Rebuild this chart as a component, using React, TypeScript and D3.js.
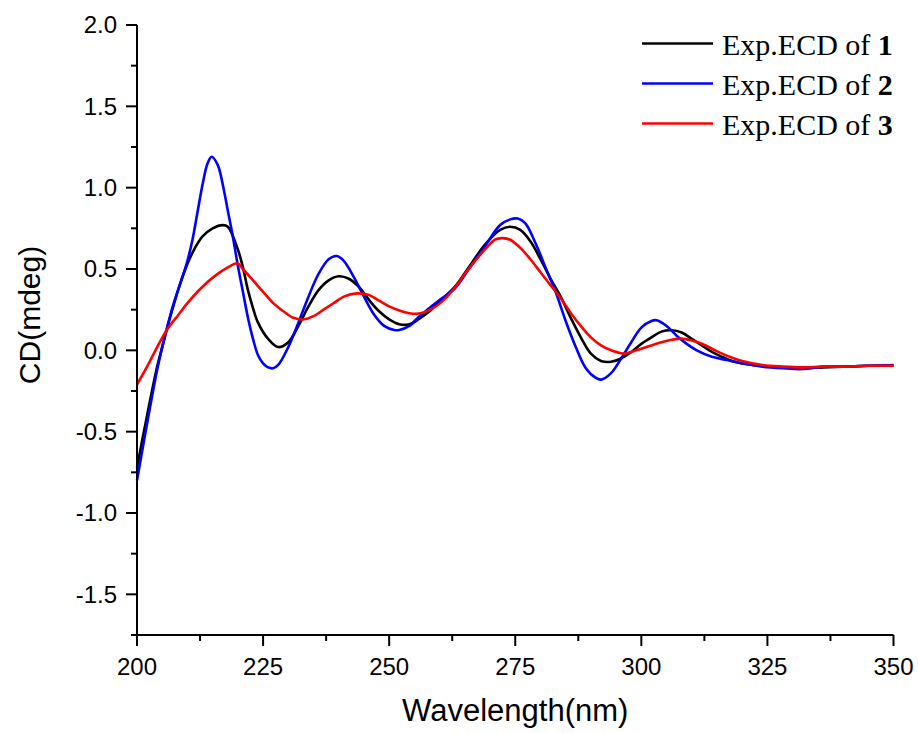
import React from "react";
import * as d3 from "d3";

const wl1 = [200,202,204,205,207,209,211,213,215,217,218,220,221,222,223,224,226,228,230,232,234,236,238,240,242,244,246,248,250,252,254,256,258,260,263,266,269,272,274,276,278,280,282,284,286,288,290,292,294,296,298,300,302,304,306,308,310,312,314,316,318,320,324,328,332,336,340,345,350];
const cd1 = [-0.72,-0.40,-0.10,0.02,0.25,0.45,0.60,0.70,0.75,0.77,0.76,0.62,0.51,0.37,0.26,0.17,0.07,0.02,0.05,0.15,0.27,0.37,0.43,0.455,0.44,0.39,0.31,0.24,0.19,0.16,0.16,0.195,0.24,0.30,0.39,0.52,0.65,0.74,0.76,0.74,0.67,0.56,0.44,0.33,0.20,0.08,-0.02,-0.065,-0.07,-0.05,-0.01,0.04,0.08,0.115,0.123,0.11,0.07,0.03,-0.01,-0.04,-0.065,-0.08,-0.095,-0.105,-0.11,-0.105,-0.10,-0.095,-0.095];

const wl2 = [200,202,204,205,207,209,210,211,212,213,214,214.8,216,217,218,219,220,221,222,223,224,225,226,227,228,230,232,234,236,238,239.6,241,243,245,247,249,251,252,254,256,258,260,263,266,269,272,274,275.5,277,279,281,283,285,287,289,291,292,294,296,298,300,302,303,305,307,309,311,314,317,320,324,328,332,336,340,345,350];
const cd2 = [-0.80,-0.45,-0.12,0.02,0.26,0.45,0.55,0.68,0.85,1.02,1.15,1.19,1.14,1.02,0.86,0.70,0.52,0.36,0.20,0.07,-0.03,-0.08,-0.105,-0.11,-0.09,0.02,0.17,0.33,0.47,0.56,0.58,0.55,0.45,0.33,0.22,0.15,0.125,0.125,0.15,0.21,0.26,0.31,0.38,0.51,0.64,0.77,0.805,0.81,0.78,0.66,0.51,0.36,0.18,0.02,-0.11,-0.17,-0.18,-0.14,-0.05,0.05,0.14,0.18,0.185,0.15,0.09,0.04,0.0,-0.04,-0.06,-0.08,-0.10,-0.11,-0.115,-0.10,-0.10,-0.095,-0.09];

const wl3 = [200,202,204,206,208,210,212,214,216,218,219.9,221,223,225,227,229,231,233,235,237,239,241,243.6,246,248,250,252,254,255.5,257,259,261,263,266,269,271,272.3,274,276,278,280,282,284,286,288,290,292,294,296.4,298,300,302,304,306,308,310,312,314,316,318,320,324,328,332,336,340,345,350];
const cd3 = [-0.21,-0.10,0.02,0.13,0.21,0.29,0.36,0.42,0.47,0.51,0.535,0.50,0.43,0.36,0.29,0.24,0.20,0.19,0.21,0.25,0.29,0.33,0.35,0.34,0.305,0.27,0.245,0.228,0.225,0.235,0.265,0.315,0.385,0.51,0.62,0.68,0.69,0.68,0.63,0.56,0.48,0.40,0.32,0.23,0.15,0.08,0.03,0.0,-0.02,-0.01,0.01,0.03,0.05,0.065,0.072,0.06,0.04,0.01,-0.02,-0.045,-0.065,-0.09,-0.10,-0.105,-0.10,-0.10,-0.095,-0.095];

const seriesNames = ["1", "2", "3"];
const seriesColors = ["#000000", "#0000ff", "#ff0000"];
const xMajorTicks = [200, 225, 250, 275, 300, 325, 350];
const xMinorTicks = [212.5, 237.5, 262.5, 287.5, 312.5, 337.5];
const yMajorTicks = [-1.5, -1.0, -0.5, 0.0, 0.5, 1.0, 1.5, 2.0];
const yMinorTicks = [-1.75, -1.25, -0.75, -0.25, 0.25, 0.75, 1.25, 1.75];

export default function App() {
  const W = 918, H = 733;
  const x = d3.scaleLinear().domain([200, 350]).range([137, 893.5]);
  const y = d3.scaleLinear().domain([-1.75, 2.0]).range([635, 25]);
  const line = d3.line<[number, number]>()
    .x(d => x(d[0]))
    .y(d => y(d[1]))
    .curve(d3.curveCatmullRom.alpha(0.5));
  const series = [
    wl1.map((w, i) => [w, cd1[i]] as [number, number]),
    wl2.map((w, i) => [w, cd2[i]] as [number, number]),
    wl3.map((w, i) => [w, cd3[i]] as [number, number]),
  ];
  const fmt = (v: number) => v.toFixed(1).replace("\u2212", "-");
  const x0 = x(200), yb = y(-1.75);
  const sans = "Arial, 'Liberation Sans', sans-serif";
  const serif = "'Times New Roman', 'Liberation Serif', serif";
  return (
    <svg width={W} height={H} style={{ position: "absolute", left: 0, top: 0, background: "#fff" }}>
      <rect x={0} y={0} width={W} height={H} fill="#fff" />
      {series.map((s, i) => (
        <path key={i} d={line(s) || ""} fill="none" stroke={seriesColors[i]} strokeWidth={2.6} strokeLinejoin="round" />
      ))}
      {/* axes */}
      <line x1={x0} x2={x0} y1={y(2.0)} y2={yb + 11} stroke="#000" strokeWidth={2} />
      <line x1={x0 - 6} x2={x(350)} y1={yb} y2={yb} stroke="#000" strokeWidth={2} />
      {yMajorTicks.map(t => (
        <g key={"ym" + t}>
          <line x1={x0 - 11} x2={x0} y1={y(t)} y2={y(t)} stroke="#000" strokeWidth={2} />
          <text x={x0 - 20} y={y(t)} dy="0.35em" textAnchor="end" fontFamily={sans} fontSize={24} fill="#000">{fmt(t)}</text>
        </g>
      ))}
      {yMinorTicks.map(t => (
        <line key={"yn" + t} x1={x0 - 6} x2={x0} y1={y(t)} y2={y(t)} stroke="#000" strokeWidth={2} />
      ))}
      {xMajorTicks.map(t => (
        <g key={"xm" + t}>
          <line x1={x(t)} x2={x(t)} y1={yb} y2={yb + 11} stroke="#000" strokeWidth={2} />
          <text x={x(t)} y={675} textAnchor="middle" fontFamily={sans} fontSize={24} fill="#000">{t}</text>
        </g>
      ))}
      {xMinorTicks.map(t => (
        <line key={"xn" + t} x1={x(t)} x2={x(t)} y1={yb} y2={yb + 6} stroke="#000" strokeWidth={2} />
      ))}
      <text x={(x(200) + x(350)) / 2} y={721} textAnchor="middle" fontFamily={sans} fontSize={31} fill="#000">Wavelength(nm)</text>
      <text transform={`translate(40,315) rotate(-90)`} textAnchor="middle" fontFamily={sans} fontSize={30} fill="#000">CD(mdeg)</text>
      {/* legend */}
      {seriesNames.map((n, i) => (
        <g key={"lg" + n}>
          <line x1={642} x2={713} y1={43.5 + i * 40} y2={43.5 + i * 40} stroke={seriesColors[i]} strokeWidth={2.6} />
          <text x={722} y={54.5 + i * 40} fontFamily={serif} fontSize={30} fill="#000">
            Exp.ECD of <tspan fontWeight="bold">{n}</tspan>
          </text>
        </g>
      ))}
    </svg>
  );
}
